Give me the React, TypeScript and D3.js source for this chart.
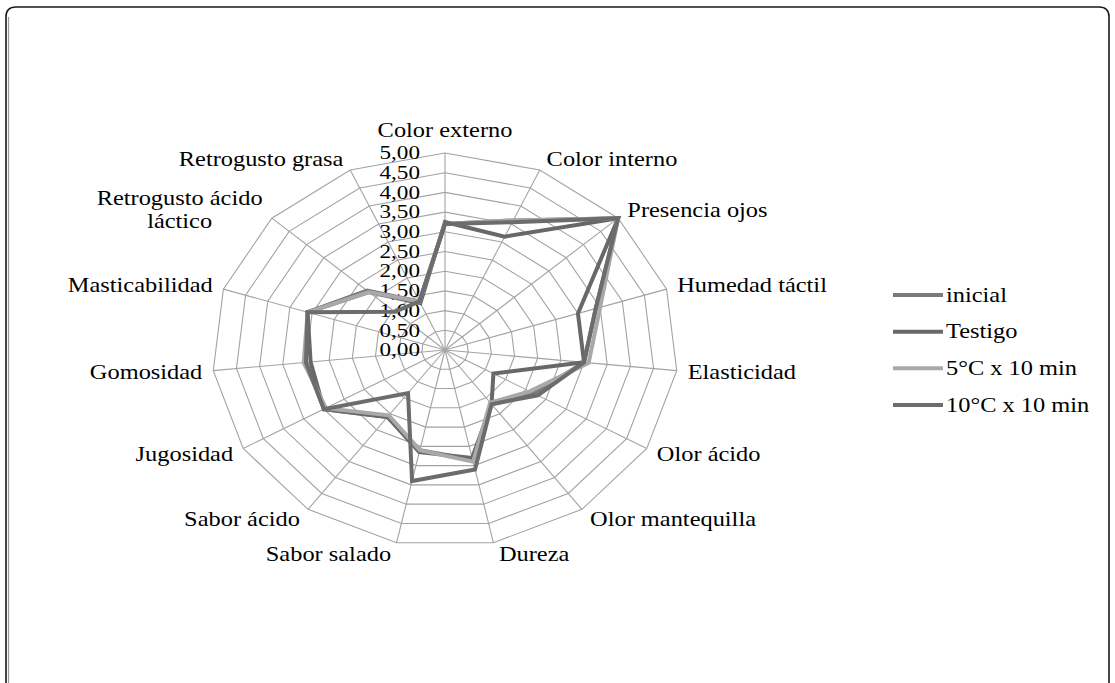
import React from "react";
import * as d3 from "d3";

const categories = [
  "Color externo",
  "Color interno",
  "Presencia ojos",
  "Humedad táctil",
  "Elasticidad",
  "Olor ácido",
  "Olor mantequilla",
  "Dureza",
  "Sabor salado",
  "Sabor ácido",
  "Jugosidad",
  "Gomosidad",
  "Masticabilidad",
  "Retrogusto ácido láctico",
  "Retrogusto grasa",
];

const seriesNames = ["inicial", "Testigo", "5°C x 10 min", "10°C x 10 min"];
const seriesColors = ["#7a7a7a", "#686868", "#a9a9a9", "#6c6c6c"];

const inicial = [3.2, 3.6, 5.0, 3.4, 3.0, 2.2, 1.7, 2.85, 2.6, 2.1, 3.0, 3.0, 3.1, 2.25, 1.35];
const testigo = [3.25, 3.15, 5.0, 3.0, 3.0, 1.2, 1.7, 2.8, 2.65, 2.1, 3.0, 2.9, 3.1, 2.2, 1.3];
const c5 = [3.2, 3.6, 5.0, 3.5, 3.1, 2.1, 1.65, 2.9, 2.6, 2.05, 2.95, 3.05, 3.1, 2.2, 1.35];
const c10 = [3.2, 3.55, 5.0, 3.4, 3.0, 2.3, 1.7, 3.1, 3.4, 1.35, 3.0, 3.0, 3.1, 1.45, 1.35];
const seriesValues = [inicial, testigo, c5, c10];

const tickValues = [0, 0.5, 1, 1.5, 2, 2.5, 3, 3.5, 4, 4.5, 5];
const tickLabels = ["0,00", "0,50", "1,00", "1,50", "2,00", "2,50", "3,00", "3,50", "4,00", "4,50", "5,00"];

const W = 1115;
const H = 683;
const CX = 445;
const CY = 350;
const RX = 233;
const RY = 197;
const FONT = '"Liberation Serif", "Times New Roman", serif';
const FS = 20;
const SX = 1.22;

const rScale = d3.scaleLinear().domain([0, 5]).range([0, 1]);
const angle = d3
  .scaleLinear()
  .domain([0, categories.length])
  .range([0, 2 * Math.PI]);

function pt(i: number, v: number): [number, number] {
  const a = angle(i);
  const r = rScale(v);
  return [CX + RX * r * Math.sin(a), CY - RY * r * Math.cos(a)];
}

let measureCtx: CanvasRenderingContext2D | null = null;
function measure(t: string): number {
  if (typeof document === "undefined") return t.length * 9;
  if (!measureCtx) {
    const c = document.createElement("canvas");
    measureCtx = c.getContext("2d");
  }
  if (!measureCtx) return t.length * 9;
  measureCtx.font = `${FS}px ${FONT}`;
  return measureCtx.measureText(t).width;
}

const lineGen = d3.line<[number, number]>().curve(d3.curveLinearClosed);

function SText(props: { x: number; y: number; anchor: string; size?: number; children: string }) {
  return (
    <text
      transform={`translate(${props.x},${props.y}) scale(${SX},1)`}
      textAnchor={props.anchor as any}
      dominantBaseline="central"
      fontFamily={FONT}
      fontSize={props.size ?? FS}
      fill="#000"
    >
      {props.children}
    </text>
  );
}

export default function App() {
  const n = categories.length;
  const idx = d3.range(n);

  const rings = tickValues.slice(1).map((t) => lineGen(idx.map((i) => pt(i, t))) as string);

  const labels = categories.map((c, i) => {
    const a = angle(i);
    const s = Math.sin(a);
    const co = Math.cos(a);
    const [vx, vy] = pt(i, 5);
    const top = Math.abs(s) < 0.05;
    const dx = top ? 0 : Math.sign(s) * (4 + 7 * Math.abs(s));
    const dy = top ? -23 : -12 * co;
    const anchor = top ? "middle" : s > 0 ? "start" : "end";
    const lines = c === "Retrogusto ácido láctico" ? ["Retrogusto ácido", "láctico"] : [c];
    const x = vx + dx;
    const y = vy + dy;
    if (lines.length === 1) {
      return <SText key={c} x={x} y={y} anchor={anchor}>{c}</SText>;
    }
    const bw = d3.max(lines, (l) => measure(l))! * SX;
    const mx = anchor === "end" ? x - bw / 2 : x + bw / 2;
    const lh = 23;
    return (
      <g key={c}>
        {lines.map((l, k) => (
          <SText key={l} x={mx} y={y + (k - (lines.length - 1) / 2) * lh} anchor="middle">
            {l}
          </SText>
        ))}
      </g>
    );
  });

  const legendY = d3.scalePoint<string>().domain(seriesNames).range([295, 405]);

  return (
    <svg
      width={W}
      height={H}
      style={{ position: "absolute", left: 0, top: 0, background: "#fff" }}
    >
      <rect x={0} y={0} width={W} height={H} fill="#fff" />
      <path
        d={`M6,${H + 5} L6,17 Q6,7 16,7 L1099,7 Q1109,7 1109,17 L1109,${H + 5}`}
        fill="none"
        stroke="#1a1a1a"
        strokeWidth={1.6}
      />
      <line x1={8.5} y1={17} x2={8.5} y2={H} stroke="#9a9a9a" strokeWidth={1.2} />
      <g>
        {rings.map((d, k) => (
          <path key={k} d={d} fill="none" stroke="#a3a3a3" strokeWidth={1.1} />
        ))}
        {idx.map((i) => {
          const [x, y] = pt(i, 5);
          return <line key={i} x1={CX} y1={CY} x2={x} y2={y} stroke="#a3a3a3" strokeWidth={1.1} />;
        })}
      </g>
      <g>
        {tickValues.map((t, k) => (
          <SText key={t} x={CX - 25} y={pt(0, t)[1]} anchor="end" size={19}>
            {tickLabels[k]}
          </SText>
        ))}
      </g>
      <g>
        {seriesValues.map((vals, s) => (
          <path
            key={s}
            d={lineGen(vals.map((v, i) => pt(i, v))) as string}
            fill="none"
            stroke={seriesColors[s]}
            strokeWidth={4}
            strokeLinejoin="miter"
          />
        ))}
      </g>
      <g>{labels}</g>
      <g>
        {seriesNames.map((nm, s) => {
          const y = legendY(nm)!;
          return (
            <g key={nm}>
              <line x1={893} x2={943} y1={y} y2={y} stroke={seriesColors[s]} strokeWidth={4} />
              <SText x={946} y={y} anchor="start">{nm}</SText>
            </g>
          );
        })}
      </g>
    </svg>
  );
}
